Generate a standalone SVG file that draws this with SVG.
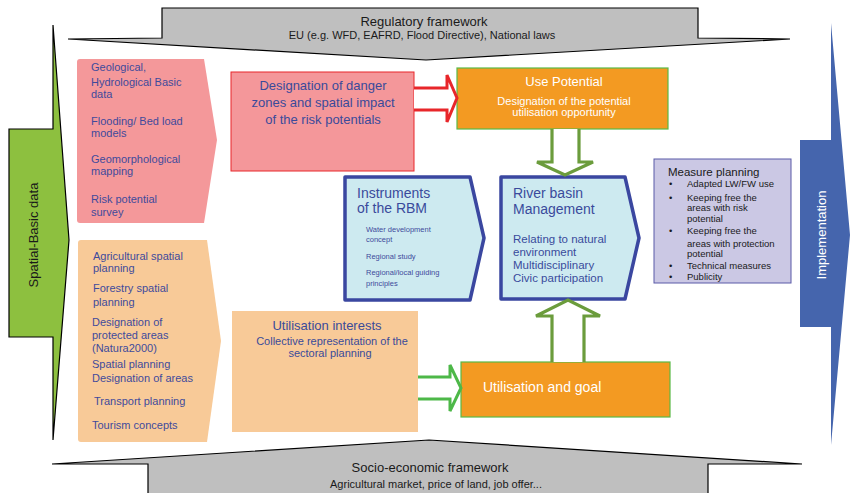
<svg xmlns="http://www.w3.org/2000/svg" width="852" height="493" viewBox="0 0 852 493">
<style>
text{font-family:"Liberation Sans",Arial,sans-serif}
.frame{fill:#bfbfbf;stroke:#000;stroke-width:1.2}
.ft{fill:#1a1a1a;text-anchor:middle}
.bt{fill:#3f4a9c;font-size:11px}
.hollowR{fill:#fff;stroke:#e8262a;stroke-width:3}
.hollowG{fill:#fff;stroke:#6b9c3c;stroke-width:3.2}
.hollowG2{fill:#fff;stroke:#4db848;stroke-width:3}
.orange{fill:#f39a22;stroke:#5ab947;stroke-width:1.2}
.cyan{fill:#cdeaf0;stroke:#3a47a0;stroke-width:3.5;stroke-linejoin:round}
.wt{fill:#fff}
.mp{fill:#1a1a1a;font-size:9.5px}
</style>

<g id="regulatory-framework">
<path class="frame" d="M162,8 H698 V38 L790,39 L426,60 L68,39 L162,38 Z"/>
<text class="ft" x="424" y="26" font-size="13">Regulatory framework</text>
<text class="ft" x="422" y="39" font-size="11">EU (e.g. WFD, EAFRD, Flood Directive), National laws</text>
</g>

<g id="socio-economic-framework">
<path class="frame" d="M148,500 V464 L52,464 L429,440 L802,464 L708,464 V500 Z"/>
<text class="ft" x="430" y="472" font-size="13">Socio-economic framework</text>
<text class="ft" x="436" y="488" font-size="11">Agricultural market, price of land, job offer...</text>
</g>

<g id="spatial-basic-data">
<path d="M53,25 V129 H9 V337 H53 V440 L69,240 Z" fill="#8dc03f" stroke="#000" stroke-width="1.2" stroke-linejoin="miter"/>
<text x="0" y="0" transform="translate(38,235) rotate(-90)" text-anchor="middle" font-size="13" fill="#1a1a1a">Spatial-Basic data</text>
</g>

<g id="implementation">
<path d="M831,23 V140 H800 V327 H831 V445 L850,235 Z" fill="#4565ad"/>
<text x="0" y="0" transform="translate(826,235) rotate(-90)" text-anchor="middle" font-size="13" fill="#fff">Implementation</text>
</g>

<g id="basic-data-box">
<path d="M80,59 H204 L217,140 L204,223 H80 Q77,223 77,220 V62 Q77,59 80,59 Z" fill="#f4989a"/>
<text class="bt" x="91" y="71">Geological,</text>
<text class="bt" x="91" y="86">Hydrological Basic</text>
<text class="bt" x="91" y="98">data</text>
<text class="bt" x="91" y="125">Flooding/  Bed load</text>
<text class="bt" x="91" y="137">models</text>
<text class="bt" x="91" y="163">Geomorphological</text>
<text class="bt" x="91" y="175">mapping</text>
<text class="bt" x="91" y="203">Risk potential</text>
<text class="bt" x="91" y="216">survey</text>
</g>

<g id="sectoral-planning-box">
<path d="M81,240 H207 L221,341 L207,442 H81 Q78,442 78,439 V243 Q78,240 81,240 Z" fill="#f8ca98"/>
<text class="bt" x="93" y="260">Agricultural spatial</text>
<text class="bt" x="93" y="272">planning</text>
<text class="bt" x="93" y="292">Forestry spatial</text>
<text class="bt" x="93" y="306">planning</text>
<text class="bt" x="92" y="326">Designation of</text>
<text class="bt" x="92" y="339">protected areas</text>
<text class="bt" x="92" y="352">(Natura2000)</text>
<text class="bt" x="92" y="368">Spatial planning</text>
<text class="bt" x="92" y="382">Designation of areas</text>
<text class="bt" x="94" y="405">Transport planning</text>
<text class="bt" x="92" y="429">Tourism concepts</text>
</g>

<g id="danger-zones">
<rect x="231" y="72" width="183" height="99" fill="#f4979a" stroke="#e8262a" stroke-width="1"/>
<text x="323" y="90" text-anchor="middle" font-size="13" fill="#3a4a9a">Designation of danger</text>
<text x="323" y="107" text-anchor="middle" font-size="13" fill="#3a4a9a">zones and spatial impact</text>
<text x="323" y="124" text-anchor="middle" font-size="13" fill="#3a4a9a">of the risk potentials</text>
</g>

<g id="use-potential">
<rect class="orange" x="457" y="68" width="211" height="61"/>
<text class="wt" x="564" y="86" text-anchor="middle" font-size="13">Use Potential</text>
<text class="wt" x="564" y="105" text-anchor="middle" font-size="11">Designation of the potential</text>
<text class="wt" x="564" y="116" text-anchor="middle" font-size="11">utilisation opportunity</text>
</g>

<g id="instruments-rbm">
<path class="cyan" d="M345,177 H470 L484,238 L470,300 H345 Z"/>
<text x="357" y="198" font-size="14" fill="#3a4a9c">Instruments</text>
<text x="357" y="213" font-size="14" fill="#3a4a9c">of the RBM</text>
<text x="366" y="232" font-size="7.5" fill="#3f4a9c">Water development</text>
<text x="366" y="242" font-size="7.5" fill="#3f4a9c">concept</text>
<text x="366" y="259" font-size="7.5" fill="#3f4a9c">Regional study</text>
<text x="366" y="275" font-size="7.5" fill="#3f4a9c">Regional/local guiding</text>
<text x="366" y="286" font-size="7.5" fill="#3f4a9c">principles</text>
</g>

<g id="river-basin-management">
<path class="cyan" d="M501,177 H625 L639,238 L625,299 H501 Z"/>
<text x="513" y="198" font-size="14" fill="#3a4a9c">River basin</text>
<text x="513" y="214" font-size="14" fill="#3a4a9c">Management</text>
<text x="513" y="243" font-size="11.5" fill="#3a4a9c">Relating to natural</text>
<text x="513" y="256" font-size="11.5" fill="#3a4a9c">environment</text>
<text x="513" y="269" font-size="11.5" fill="#3a4a9c">Multidisciplinary</text>
<text x="513" y="282" font-size="11.5" fill="#3a4a9c">Civic participation</text>
</g>

<g id="measure-planning">
<rect x="654" y="159" width="137" height="124" fill="#cbc8e4" stroke="#5a5aa8" stroke-width="1"/>
<text x="668" y="176" font-size="11.5" fill="#1a1a1a">Measure planning</text>
<g class="mp">
<text x="669" y="187">•</text><text x="687" y="187">Adapted LW/FW use</text>
<text x="669" y="201">•</text><text x="687" y="201">Keeping free the</text>
<text x="687" y="211">areas with risk</text>
<text x="687" y="222">potential</text>
<text x="669" y="234">•</text><text x="687" y="234">Keeping free the</text>
<text x="687" y="247">areas with protection</text>
<text x="687" y="257">potential</text>
<text x="669" y="269">•</text><text x="687" y="269">Technical measures</text>
<text x="669" y="280">•</text><text x="687" y="280">Publicity</text>
</g>
</g>

<g id="utilisation-interests">
<rect x="232" y="311" width="186" height="121" fill="#f8ca98"/>
<text x="327" y="330" text-anchor="middle" font-size="13" fill="#3a4a9a">Utilisation interests</text>
<text x="332" y="345" text-anchor="middle" font-size="11" fill="#3a4a9a">Collective representation of  the</text>
<text x="330" y="357" text-anchor="middle" font-size="11" fill="#3a4a9a">sectoral planning</text>
</g>

<g id="utilisation-goal">
<rect class="orange" x="461" y="362" width="209" height="55"/>
<text class="wt" x="483" y="392" font-size="14">Utilisation and goal</text>
</g>

<g id="connectors">
<path class="hollowR" d="M414,88 H447 V75 L457,98 L447,122 V110 H414"/>
<path class="hollowG" d="M552,129 V162 H537 L565,175 L593,162 H579 V129"/>
<path class="hollowG2" d="M418,377 H450 V365 L461,388 L450,411 V399 H418"/>
<path class="hollowG" d="M552,362 V316 H536 L568,300 L600,316 H584 V362"/>
</g>
</svg>
